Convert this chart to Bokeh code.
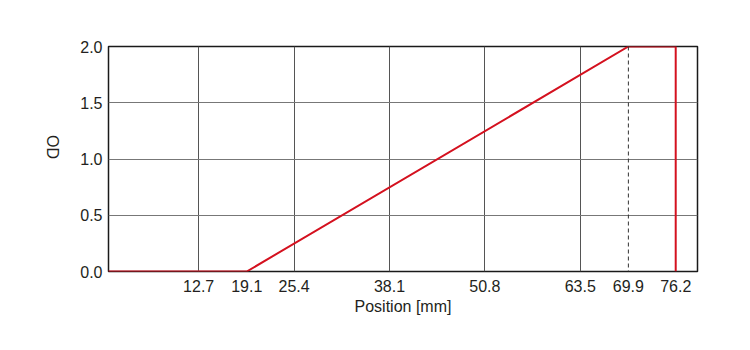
from bokeh.plotting import figure
from bokeh.models import Range1d, FixedTicker, Span, CustomJSTickFormatter
from bokeh.embed import file_html
from bokeh.resources import INLINE
import math

# data
pos_mm = [0.0, 19.1, 69.9, 76.2, 76.2]
od = [0.0, 0.0, 2.0, 2.0, 0.0]
x_ticks = [12.7, 19.1, 25.4, 38.1, 50.8, 63.5, 69.9, 76.2]
x_grid = [12.7, 25.4, 38.1, 50.8, 63.5]
y_ticks = [0.0, 0.5, 1.0, 1.5, 2.0]
dashed_at = 69.9

FONT = "Liberation Sans"
TXT = "#231f20"

p = figure(width=750, height=350, output_backend="svg", toolbar_location=None,
           x_range=Range1d(0.7, 79.1), y_range=Range1d(0, 2.0),
           min_border_left=108, min_border_right=53, min_border_top=46, min_border_bottom=79)
p.background_fill_color = "white"
p.border_fill_color = "white"
p.outline_line_color = "#1a1a1a"
p.outline_line_width = 1.5

p.xaxis.ticker = FixedTicker(ticks=x_ticks)
p.yaxis.ticker = FixedTicker(ticks=y_ticks)
p.yaxis.formatter = CustomJSTickFormatter(code="return tick.toFixed(1);")
p.xaxis.formatter = CustomJSTickFormatter(code="return tick.toFixed(1);")
for ax in (p.xaxis, p.yaxis):
    ax.axis_line_color = None
    ax.major_tick_line_color = None
    ax.minor_tick_line_color = None
    ax.major_label_text_font = FONT
    ax.major_label_text_font_size = "16px"
    ax.major_label_text_color = TXT
    ax.axis_label_text_font = FONT
    ax.axis_label_text_font_size = "16px"
    ax.axis_label_text_font_style = "normal"
    ax.axis_label_text_color = TXT
p.xaxis.major_label_standoff = 2
p.yaxis.major_label_standoff = 0

p.xaxis.axis_label = "Position [mm]"
p.xaxis.axis_label_standoff = 3

p.yaxis.axis_label = "OD"
p.yaxis.axis_label_standoff = 25
try:
    p.yaxis[0].axis_label_orientation = -math.pi / 2
except Exception:
    pass

p.xgrid.ticker = FixedTicker(ticks=x_grid)
p.ygrid.ticker = FixedTicker(ticks=[0.5, 1.0, 1.5])
p.xgrid.grid_line_color = "#555555"
p.ygrid.grid_line_color = "#777777"
p.xgrid.grid_line_width = 1
p.ygrid.grid_line_width = 1

p.add_layout(Span(location=dashed_at, dimension="height", line_color="#333333",
                  line_dash="4 3", line_width=1))

p.line(pos_mm, od, line_color="#d4111f", line_width=2)

open("out.html", "w").write(file_html(p, INLINE))
